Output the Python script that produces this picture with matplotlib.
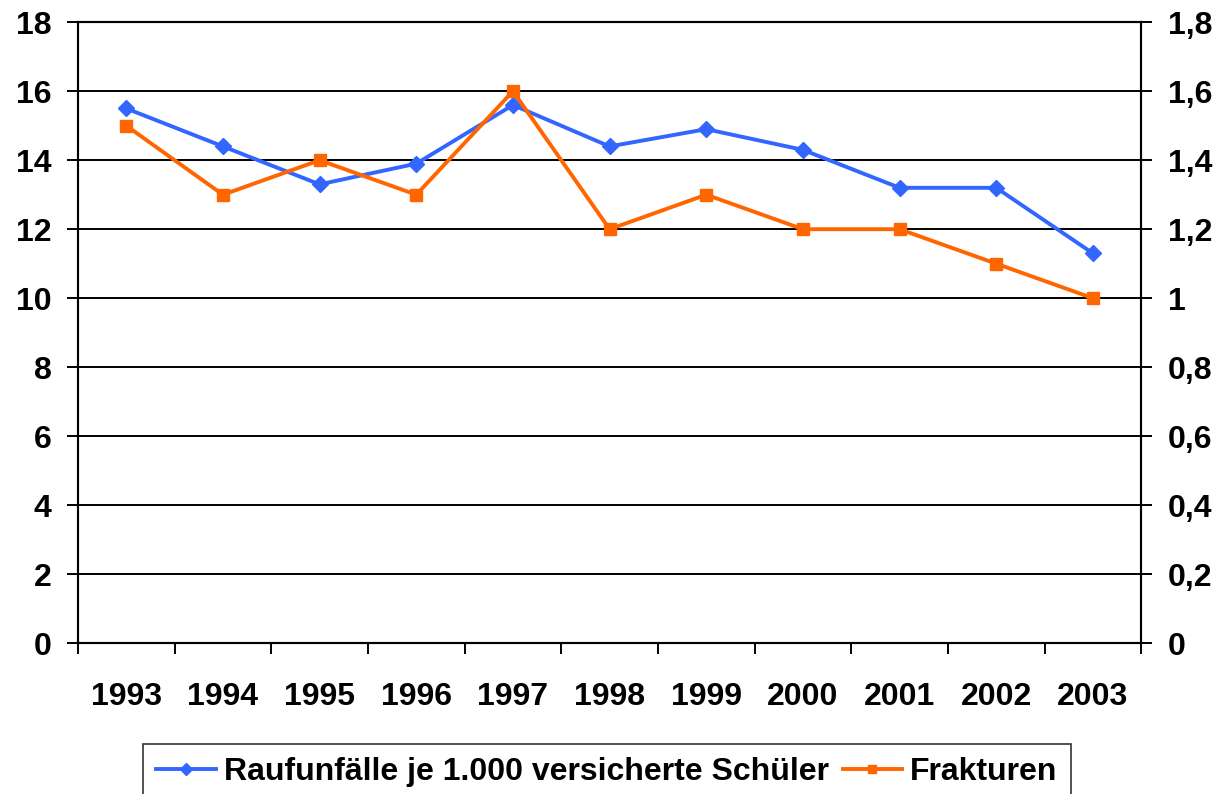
import numpy as np
import matplotlib
matplotlib.use("Agg")
import matplotlib.pyplot as plt
from matplotlib.ticker import FuncFormatter, FixedLocator

years = ["1993", "1994", "1995", "1996", "1997", "1998", "1999", "2000", "2001", "2002", "2003"]
raufunfaelle = [15.5, 14.4, 13.3, 13.9, 15.6, 14.4, 14.9, 14.3, 13.2, 13.2, 11.3]
frakturen = [1.5, 1.3, 1.4, 1.3, 1.6, 1.2, 1.3, 1.2, 1.2, 1.1, 1.0]

plt.rcParams['font.family'] = ['Liberation Sans', 'DejaVu Sans']
plt.rcParams['font.weight'] = 'bold'

blue = "#3366FF"
orange = "#FF6600"
fs = 23

fig = plt.figure(figsize=(12.18, 7.94), dpi=100, facecolor="white")
ax = fig.add_axes([0.064, 0.190, 0.873, 0.782])
ax2 = ax.twinx()

x = np.arange(len(years))
l1, = ax.plot(x, raufunfaelle, color=blue, lw=2.8, marker="D", ms=8.5,
              label="Raufunfälle je 1.000 versicherte Schüler", zorder=3)
l2, = ax2.plot(x, frakturen, color=orange, lw=2.8, marker="s", ms=9,
               label="Frakturen", zorder=3)

ax.set_xlim(-0.5, len(years) - 0.5)
ax.set_ylim(0, 18)
ax2.set_ylim(0, 1.8)
ax.set_yticks(np.arange(0, 19, 2))
ax2.set_yticks(np.arange(0, 1.81, 0.2))
ax.grid(True, axis="y", color="black", lw=1.4)
ax.set_axisbelow(True)

ax.set_xticks(x)
ax.set_xticklabels(years)
ax.xaxis.set_minor_locator(FixedLocator(np.arange(-0.5, len(years), 1)))
ax.tick_params(axis="x", which="major", length=0, pad=28, labelsize=fs)
ax.tick_params(axis="x", which="minor", length=8, width=1.4, color="black")
ax.tick_params(axis="y", length=8, width=1.4, pad=11, labelsize=fs)
ax2.tick_params(axis="y", length=8, width=1.4, pad=11, labelsize=fs)

def komma(v, pos):
    s = f"{v:.1f}".replace(".", ",")
    if s.endswith(",0"):
        s = s[:-2]
    return s
ax2.yaxis.set_major_formatter(FuncFormatter(komma))

for a in (ax, ax2):
    for sp in a.spines.values():
        sp.set_color("black")
        sp.set_linewidth(1.5)

# Legende unten, Rahmen läuft über den Bildrand hinaus
leg = fig.legend(handles=[l1, l2], loc="upper left", bbox_to_anchor=(143 / 1218, 1 - 744 / 794),
                 borderaxespad=0, ncol=2, frameon=True, fancybox=False, fontsize=fs,
                 handlelength=1.85, handletextpad=0.25, columnspacing=0.45, borderpad=0.42)
leg.get_frame().set_edgecolor("black")
leg.get_frame().set_linewidth(1.2)
for h in leg.legend_handles:
    h.set_markersize(6)

fig.savefig("out.png", dpi=100)
